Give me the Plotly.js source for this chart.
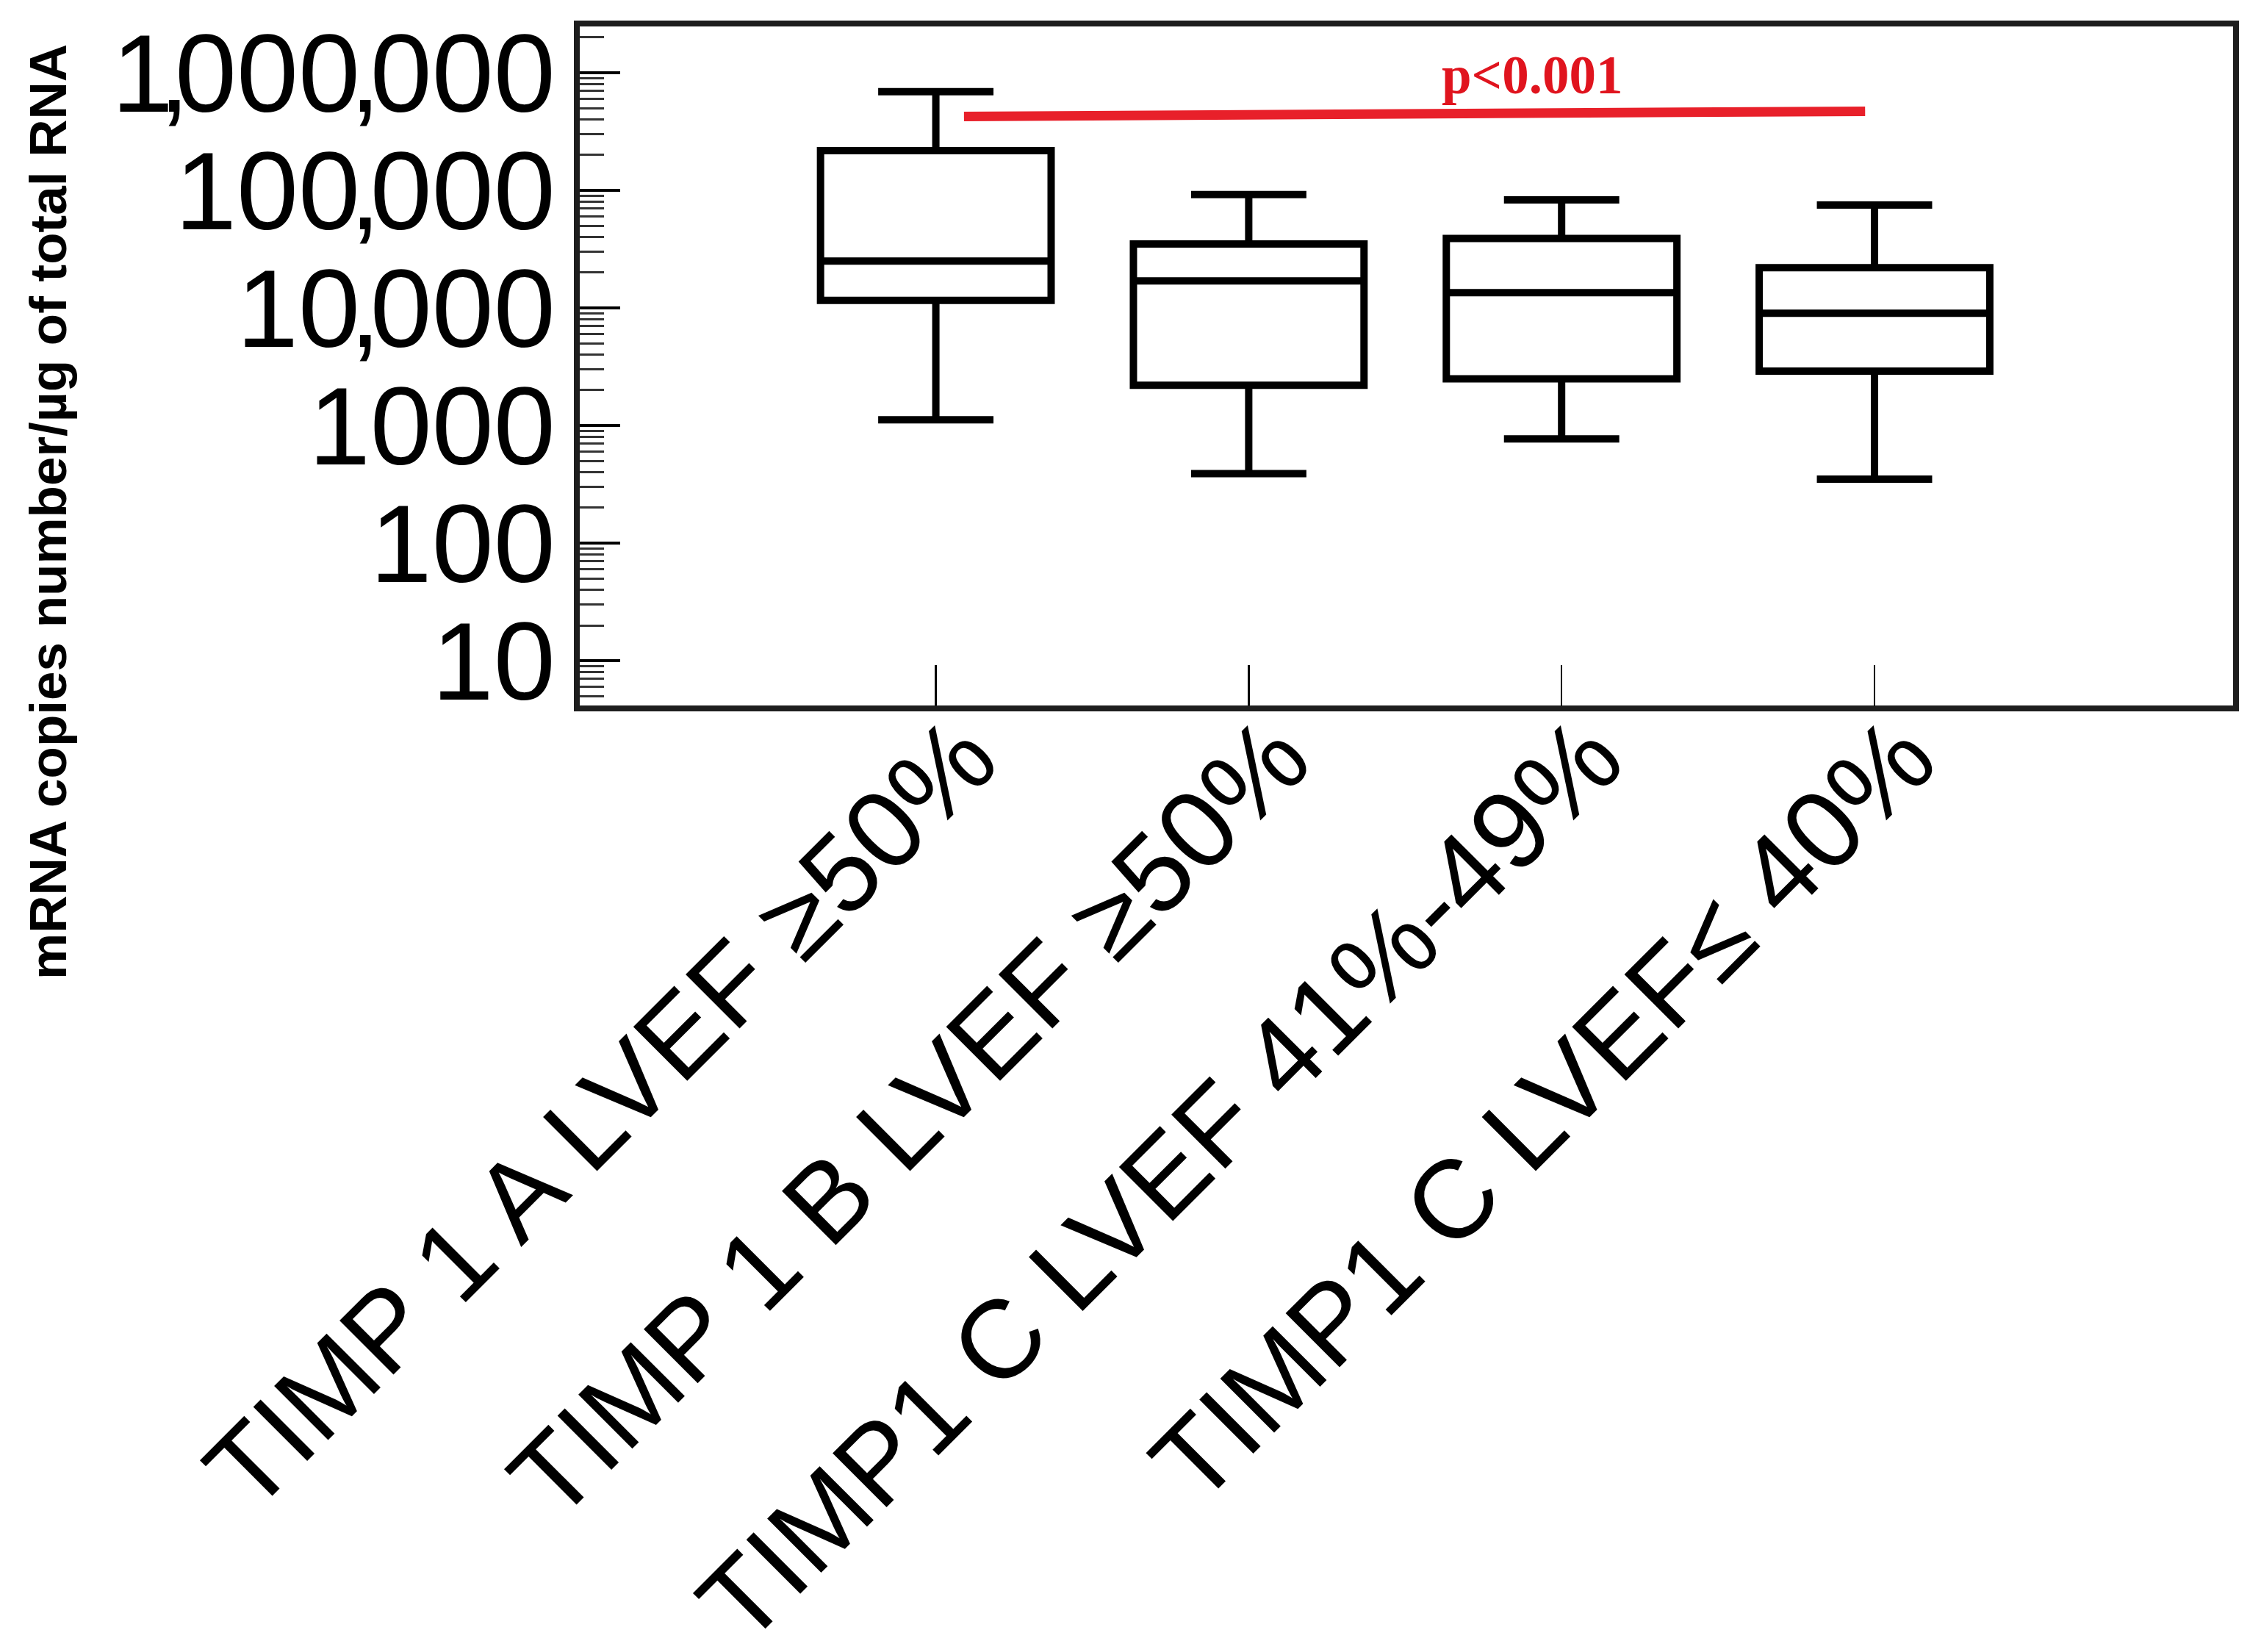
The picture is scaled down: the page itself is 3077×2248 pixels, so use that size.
<!DOCTYPE html>
<html>
<head>
<meta charset="utf-8">
<script src="https://cdn.plot.ly/plotly-3.0.1.min.js"></script>
<style>
  html, body { margin: 0; padding: 0; background: #ffffff; }
  #chart { width: 3077px; height: 2248px; }
</style>
</head>
<body>
<div id="chart"></div>
<script>
// ---- Data ----
const groups = ['TIMP 1 A LVEF ≥50%', 'TIMP 1 B LVEF ≥50%', 'TIMP1 C LVEF 41%-49%', 'TIMP1 C LVEF≤ 40%'];
const groupPos = [0, 1, 2, 3];
const upperWhisker = [690000, 92000, 83000, 75000];
const q3Values = [217000, 35000, 39000, 22000];
const medianValues = [25000, 17000, 13500, 9000];
const q1Values = [11600, 2200, 2500, 2900];
const lowerWhisker = [1120, 390, 770, 350];

const yTickVals = [10, 100, 1000, 10000, 100000, 1000000];
const yTickText = ['10', '100', '1000',
  '1<span style="letter-spacing:-14px">0,</span>000',
  '10<span style="letter-spacing:-14px">0,</span>000',
  '<span style="letter-spacing:-20px">1,</span>00<span style="letter-spacing:-14px">0,</span>000'];

const sigBarX = [0.09, 2.97];
const sigBarY = [425000, 470000];
const sigText = 'p<0.001';
const yTitle = 'mRNA copies number/µg of total RNA';

const traces = [
  {
    type: 'box',
    x: groupPos,
    q1: q1Values,
    median: medianValues,
    q3: q3Values,
    lowerfence: lowerWhisker,
    upperfence: upperWhisker,
    boxpoints: false,
    fillcolor: '#ffffff',
    line: { color: '#000000', width: 10 },
    whiskerwidth: 0.5,
    showlegend: false,
    hoverinfo: 'skip'
  },
  {
    type: 'scatter',
    mode: 'lines',
    x: sigBarX,
    y: sigBarY,
    line: { color: '#e8202a', width: 13 },
    showlegend: false,
    hoverinfo: 'skip'
  }
];

const layout = {
  width: 3077,
  height: 2248,
  paper_bgcolor: '#ffffff',
  plot_bgcolor: '#ffffff',
  margin: { l: 789, r: 38, t: 36, b: 1288, pad: 0 },
  showlegend: false,
  boxgap: 0.263,
  boxgroupgap: 0,
  xaxis: {
    type: 'linear',
    range: [-1.138, 4.146],
    tickmode: 'array',
    tickvals: groupPos,
    ticktext: groups,
    tickangle: -45,
    ticks: 'inside',
    ticklen: 55,
    tickwidth: 2.5,
    tickcolor: '#000000',
    ticklabelstandoff: -86,
    ticklabelshift: 38,
    showline: true,
    linecolor: '#1e1e1e',
    linewidth: 8,
    mirror: true,
    showgrid: false,
    zeroline: false,
    automargin: false,
    tickfont: { family: 'Arial, "Liberation Sans", sans-serif', size: 151, color: '#000000' }
  },
  yaxis: {
    type: 'log',
    range: [0.62, 6.393],
    tickmode: 'array',
    tickvals: yTickVals,
    ticktext: yTickText,
    ticks: 'inside',
    ticklen: 55,
    tickwidth: 4,
    tickcolor: '#000000',
    ticklabelstandoff: -5,
    minor: { ticks: 'inside', ticklen: 33, tickwidth: 3, tickcolor: '#333333', dtick: 'D1', showgrid: false },
    showline: true,
    linecolor: '#1e1e1e',
    linewidth: 8,
    mirror: true,
    showgrid: false,
    zeroline: false,
    automargin: false,
    tickfont: { family: 'Arial, "Liberation Sans", sans-serif', size: 151, color: '#000000' }
  },
  annotations: [
    {
      text: sigText,
      xref: 'x', yref: 'y',
      x: 1.906, y: 5.98,
      xanchor: 'center', yanchor: 'middle',
      showarrow: false,
      font: { family: '"Liberation Serif", "Times New Roman", serif', size: 73, color: '#e0141e', weight: 'bold' }
    },
    {
      text: yTitle,
      xref: 'paper', yref: 'paper',
      x: -0.3218, y: 0.2857,
      xanchor: 'center', yanchor: 'middle',
      textangle: -90,
      showarrow: false,
      font: { family: 'Arial, "Liberation Sans", sans-serif', size: 71, color: '#000000', weight: 'bold' }
    }
  ]
};

Plotly.newPlot('chart', traces, layout, { displayModeBar: false, staticPlot: true });
</script>
</body>
</html>
